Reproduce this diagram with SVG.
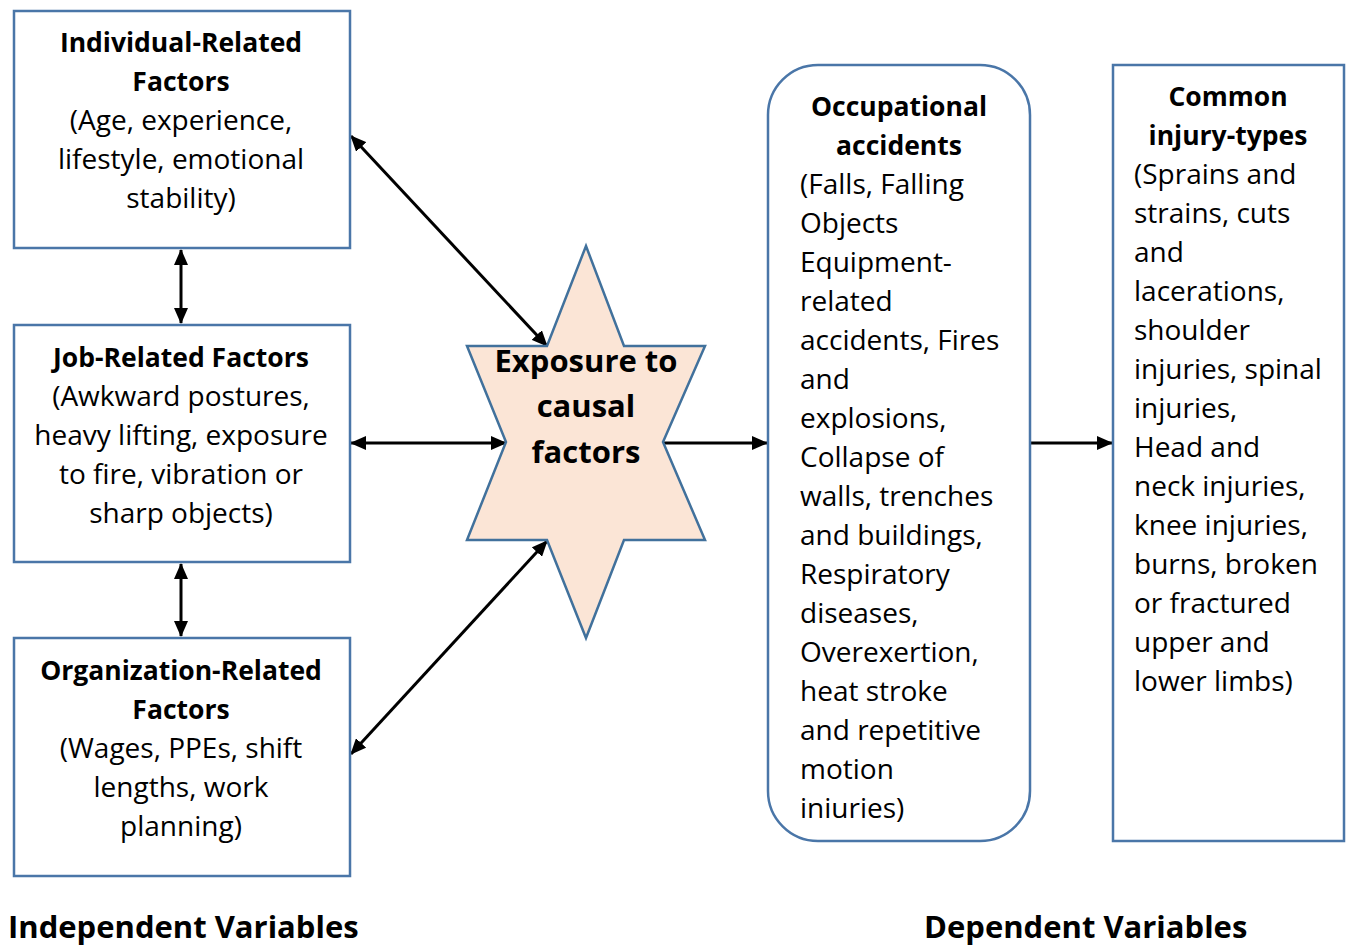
<svg xmlns="http://www.w3.org/2000/svg" width="1349" height="945" viewBox="0 0 1349 945">
<defs>
<marker id="ah" markerUnits="userSpaceOnUse" markerWidth="16" markerHeight="14" viewBox="0 0 16 14" refX="15" refY="7" orient="auto-start-reverse">
<path d="M0,0 L16,7 L0,14 z" fill="#000"/>
</marker>
<style>
.box{fill:#fff;stroke:#4A76A8;stroke-width:2.5}
.t{font-family:"Open Sans","Liberation Sans",sans-serif;font-size:28px;fill:#000}
.b{font-weight:bold;font-size:26.5px}
.c{text-anchor:middle}
.con{stroke:#000;stroke-width:3;fill:none}
.big{font-family:"Open Sans","Liberation Sans",sans-serif;font-size:31px;font-weight:bold;fill:#000}
</style>
</defs>
<rect width="1349" height="945" fill="#fff"/>

<g id="connectors">
<line class="con" x1="181" y1="250" x2="181" y2="323" marker-start="url(#ah)" marker-end="url(#ah)"/>
<line class="con" x1="181" y1="564" x2="181" y2="636" marker-start="url(#ah)" marker-end="url(#ah)"/>
<line class="con" x1="351" y1="136" x2="547" y2="346" marker-start="url(#ah)" marker-end="url(#ah)"/>
<line class="con" x1="351" y1="443" x2="506" y2="443" marker-start="url(#ah)" marker-end="url(#ah)"/>
<line class="con" x1="351" y1="754" x2="547" y2="541" marker-start="url(#ah)" marker-end="url(#ah)"/>
<line class="con" x1="663" y1="443" x2="767" y2="443" marker-end="url(#ah)"/>
<line class="con" x1="1031" y1="443" x2="1112" y2="443" marker-end="url(#ah)"/>
</g>

<g id="individual">
<rect class="box" x="14" y="11" width="336" height="237"/>
<text class="t c" x="181"><tspan class="b" x="181" y="52">Individual-Related</tspan><tspan class="b" x="181" y="91">Factors</tspan><tspan x="181" y="130">(Age, experience,</tspan><tspan x="181" y="169">lifestyle, emotional</tspan><tspan x="181" y="208">stability)</tspan></text>
</g>

<g id="job">
<rect class="box" x="14" y="325" width="336" height="237"/>
<text class="t c" x="181"><tspan class="b" x="181" y="367">Job-Related Factors</tspan><tspan x="181" y="406">(Awkward postures,</tspan><tspan x="181" y="445">heavy lifting, exposure</tspan><tspan x="181" y="484">to fire, vibration or</tspan><tspan x="181" y="523">sharp objects)</tspan></text>
</g>

<g id="organization">
<rect class="box" x="14" y="638" width="336" height="238"/>
<text class="t c" x="181"><tspan class="b" x="181" y="680">Organization-Related</tspan><tspan class="b" x="181" y="719">Factors</tspan><tspan x="181" y="758">(Wages, PPEs, shift</tspan><tspan x="181" y="797">lengths, work</tspan><tspan x="181" y="836">planning)</tspan></text>
</g>

<g id="exposure">
<polygon points="586,246 624,346 705,346 663,442 705,540 624,540 586,638 547,540 467,540 506,442 467,346 547,346" fill="#FBE5D6" stroke="#41719C" stroke-width="2.5"/>
<text class="big c"><tspan x="586" y="372">Exposure to</tspan><tspan x="586" y="417">causal</tspan><tspan x="586" y="463">factors</tspan></text>
</g>

<g id="occupational">
<rect class="box" x="768" y="65" width="262" height="776" rx="50" ry="50"/>
<text class="t"><tspan class="b c" x="899" y="116">Occupational</tspan><tspan class="b c" x="899" y="155">accidents</tspan><tspan x="800" y="194">(Falls, Falling</tspan><tspan x="800" y="233">Objects</tspan><tspan x="800" y="272">Equipment-</tspan><tspan x="800" y="311">related</tspan><tspan x="800" y="350">accidents, Fires</tspan><tspan x="800" y="389">and</tspan><tspan x="800" y="428">explosions,</tspan><tspan x="800" y="467">Collapse of</tspan><tspan x="800" y="506">walls, trenches</tspan><tspan x="800" y="545">and buildings,</tspan><tspan x="800" y="584">Respiratory</tspan><tspan x="800" y="623">diseases,</tspan><tspan x="800" y="662">Overexertion,</tspan><tspan x="800" y="701">heat stroke</tspan><tspan x="800" y="740">and repetitive</tspan><tspan x="800" y="779">motion</tspan><tspan x="800" y="818">iniuries)</tspan></text>
</g>

<g id="injury-types">
<rect class="box" x="1113" y="65" width="231" height="776"/>
<text class="t"><tspan class="b c" x="1228" y="106">Common</tspan><tspan class="b c" x="1228" y="145">injury-types</tspan><tspan x="1134" y="184">(Sprains and</tspan><tspan x="1134" y="223">strains, cuts</tspan><tspan x="1134" y="262">and</tspan><tspan x="1134" y="301">lacerations,</tspan><tspan x="1134" y="340">shoulder</tspan><tspan x="1134" y="379">injuries, spinal</tspan><tspan x="1134" y="418">injuries,</tspan><tspan x="1134" y="457">Head and</tspan><tspan x="1134" y="496">neck injuries,</tspan><tspan x="1134" y="535">knee injuries,</tspan><tspan x="1134" y="574">burns, broken</tspan><tspan x="1134" y="613">or fractured</tspan><tspan x="1134" y="652">upper and</tspan><tspan x="1134" y="691">lower limbs)</tspan></text>
</g>

<g id="labels">
<text class="big" x="8" y="938">Independent Variables</text>
<text class="big" x="924" y="938">Dependent Variables</text>
</g>
</svg>
